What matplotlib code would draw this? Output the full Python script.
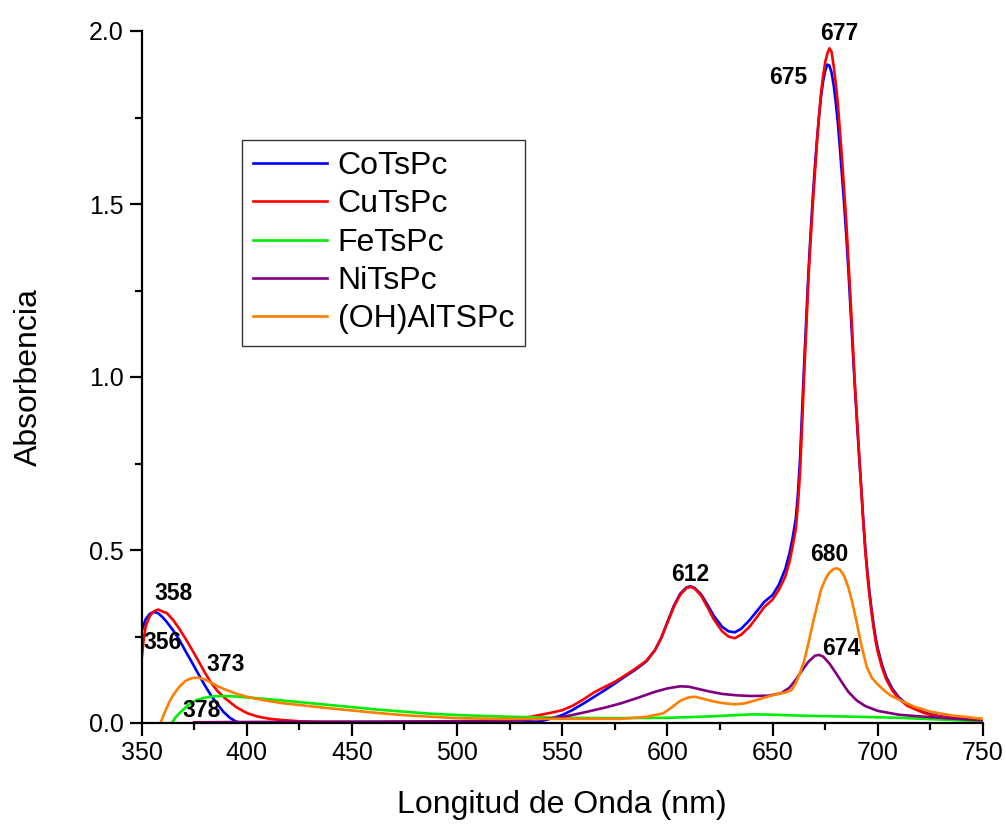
import matplotlib
matplotlib.use("Agg")
import matplotlib.pyplot as plt
from matplotlib.ticker import MultipleLocator, FormatStrFormatter

plt.rcParams['font.family'] = ['Liberation Sans', 'DejaVu Sans']

# ---------------- data ----------------
co_wl = [350, 352, 354, 356, 358, 360, 362, 365, 368, 371, 374, 377, 380, 383, 386, 389, 392, 395, 398,
         420, 460, 500, 530, 538, 543, 547, 550, 555, 560, 565, 570, 575, 580, 585, 590, 594, 597, 600,
         603, 606, 609, 611, 613, 616, 619, 622, 626, 629, 632, 635, 639, 643, 646, 650, 653, 656, 658,
         659.5, 661, 662, 663, 664, 665, 666, 667, 668, 669, 670, 671, 672, 673, 674, 675, 676, 677, 678,
         679, 680, 681, 682, 683, 684, 685, 686, 687, 688, 689, 690, 691, 692, 693, 694, 695, 696, 697,
         698, 699, 700, 702, 704, 707, 710, 714, 718, 722, 726, 730, 740, 750]
co_abs = [0.265, 0.300, 0.316, 0.321, 0.317, 0.306, 0.292, 0.268, 0.240, 0.207, 0.175, 0.142, 0.110,
          0.080, 0.055, 0.032, 0.015, 0.004, 0.000,
          0.000, 0.001, 0.001, 0.001, 0.003, 0.010, 0.017, 0.023, 0.038, 0.056, 0.075, 0.094, 0.114,
          0.135, 0.155, 0.178, 0.210, 0.245, 0.292, 0.338, 0.373, 0.392, 0.395, 0.390, 0.372, 0.342,
          0.310, 0.278, 0.265, 0.262, 0.272, 0.297, 0.327, 0.350, 0.370, 0.400, 0.445, 0.490, 0.535,
          0.590, 0.660, 0.760, 0.900, 1.040, 1.170, 1.300, 1.410, 1.510, 1.600, 1.680, 1.750, 1.810,
          1.855, 1.885, 1.903, 1.900, 1.880, 1.845, 1.795, 1.735, 1.660, 1.580, 1.500, 1.410, 1.310,
          1.200, 1.090, 0.980, 0.880, 0.780, 0.690, 0.595, 0.510, 0.440, 0.380, 0.330, 0.285, 0.245,
          0.215, 0.168, 0.133, 0.098, 0.074, 0.053, 0.041, 0.031, 0.024, 0.019, 0.012, 0.008]

cu_wl = [350, 351, 352, 354, 356, 358, 360, 362, 365, 368, 371, 374, 377, 380, 383, 386, 390, 395, 400,
         405, 410, 416, 425, 435, 460, 490, 510, 525, 535, 545, 550, 555, 560, 565, 570, 575, 580, 585,
         590, 594, 597, 600, 603, 606, 609, 611, 613, 616, 619, 622, 626, 629, 632, 635, 639, 643, 646,
         650, 653, 656, 658, 659.5, 661, 662, 663, 664, 665, 666, 667, 668, 669, 670, 671, 672, 673, 674,
         675, 676, 677, 678, 679, 680, 681, 682, 683, 684, 685, 686, 687, 688, 689, 690, 691, 692, 693,
         694, 695, 696, 697, 698, 699, 700, 702, 704, 707, 710, 714, 718, 722, 726, 730, 740, 750]
cu_abs = [0.180, 0.240, 0.280, 0.310, 0.323, 0.328, 0.322, 0.318, 0.298, 0.272, 0.243, 0.212, 0.180,
          0.147, 0.117, 0.093, 0.070, 0.046, 0.029, 0.019, 0.013, 0.009, 0.005, 0.003, 0.002, 0.003,
          0.005, 0.010, 0.018, 0.030, 0.037, 0.050, 0.068, 0.088, 0.104, 0.119, 0.138, 0.158, 0.180,
          0.210, 0.245, 0.290, 0.335, 0.370, 0.390, 0.393, 0.388, 0.368, 0.335, 0.300, 0.265, 0.250,
          0.245, 0.255, 0.278, 0.310, 0.335, 0.357, 0.385, 0.423, 0.465, 0.510, 0.560, 0.630, 0.720,
          0.860, 1.010, 1.140, 1.280, 1.390, 1.490, 1.580, 1.670, 1.750, 1.820, 1.870, 1.910, 1.935,
          1.950, 1.940, 1.900, 1.850, 1.790, 1.710, 1.630, 1.540, 1.450, 1.340, 1.230, 1.110, 0.990,
          0.890, 0.790, 0.690, 0.590, 0.500, 0.430, 0.370, 0.320, 0.275, 0.235, 0.205, 0.160, 0.126,
          0.093, 0.070, 0.050, 0.039, 0.029, 0.022, 0.018, 0.012, 0.008]

fe_wl = [364.5, 366, 368, 370, 373, 376, 380, 384, 388, 394, 400, 412, 424, 436, 448, 460, 472, 487,
         500, 525, 550, 575, 600, 620, 640, 650, 665, 690, 710, 730, 750]
fe_abs = [0.000, 0.015, 0.028, 0.040, 0.055, 0.066, 0.073, 0.077, 0.078, 0.077, 0.074, 0.068, 0.061,
          0.054, 0.047, 0.040, 0.034, 0.027, 0.023, 0.018, 0.015, 0.014, 0.015, 0.019, 0.025, 0.024,
          0.021, 0.018, 0.015, 0.010, 0.005]

ni_wl = [375, 400, 450, 500, 525, 540, 550, 560, 570, 578, 586, 594, 600, 606, 610, 615, 620, 626, 633,
         640, 648, 654, 658, 661, 664, 667, 670, 672, 674, 677, 680, 683, 686, 690, 694, 700, 710, 720,
         730, 740, 750]
ni_abs = [0.002, 0.003, 0.004, 0.005, 0.007, 0.011, 0.017, 0.030, 0.044, 0.057, 0.073, 0.090, 0.100,
          0.106, 0.105, 0.098, 0.091, 0.084, 0.080, 0.078, 0.079, 0.086, 0.102, 0.125, 0.152, 0.177,
          0.194, 0.197, 0.192, 0.172, 0.145, 0.117, 0.090, 0.065, 0.049, 0.035, 0.024, 0.019, 0.015,
          0.011, 0.008]

al_wl = [359, 361, 363, 365, 368, 371, 374, 377, 380, 383, 386, 390, 395, 400, 408, 416, 428, 440, 452,
         464, 476, 488, 500, 520, 550, 578, 590, 598, 602, 606, 610, 613, 617, 622, 627, 632, 637, 641,
         646, 651, 656, 659, 661, 663, 665, 667, 669, 671, 673, 675, 677, 679, 680.5, 682, 684, 686,
         688, 690, 692, 694.7, 697, 699.4, 703, 706, 710.5, 717, 724.8, 735, 750]
al_abs = [0.000, 0.030, 0.058, 0.080, 0.105, 0.122, 0.130, 0.131, 0.126, 0.117, 0.107, 0.096, 0.085,
          0.076, 0.066, 0.058, 0.050, 0.042, 0.035, 0.028, 0.022, 0.018, 0.014, 0.012, 0.012, 0.012,
          0.018, 0.028, 0.045, 0.064, 0.074, 0.076, 0.070, 0.062, 0.057, 0.054, 0.057, 0.064, 0.073,
          0.082, 0.088, 0.095, 0.115, 0.145, 0.180, 0.230, 0.285, 0.336, 0.385, 0.415, 0.435, 0.445,
          0.447, 0.443, 0.425, 0.392, 0.345, 0.290, 0.230, 0.163, 0.132, 0.115, 0.094, 0.080, 0.066,
          0.048, 0.033, 0.022, 0.012]

series_names = ['CoTsPc', 'CuTsPc', 'FeTsPc', 'NiTsPc', '(OH)AlTSPc']
series_colors = ['#0000FF', '#FF0000', '#00EE00', '#800080', '#FF8000']

peak_labels = ['358', '356', '373', '378', '612', '680', '674', '675', '677']
peak_label_x = [365.1, 359.9, 390.0, 378.6, 610.7, 677.0, 682.7, 657.4, 681.7]
peak_label_y = [0.373, 0.234, 0.168, 0.035, 0.428, 0.486, 0.214, 1.867, 1.994]

xlabel = 'Longitud de Onda (nm)'
ylabel = 'Absorbencia'

# ---------------- figure ----------------
W, H = 1006, 824
fig = plt.figure(figsize=(W / 100, H / 100), dpi=100)
left, right, bottom, top = 141.5, 983, 723, 31
ax = fig.add_axes([left / W, (H - bottom) / H, (right - left) / W, (bottom - top) / H])

xs = [co_wl, cu_wl, fe_wl, ni_wl, al_wl]
ys = [co_abs, cu_abs, fe_abs, ni_abs, al_abs]
for x, y, name, c in zip(xs, ys, series_names, series_colors):
    ax.plot(x, y, color=c, lw=1.9, label=name, solid_joinstyle='round')

for t, px, py in zip(peak_labels, peak_label_x, peak_label_y):
    ax.text(px, py, t, ha='center', va='center', fontsize=16.5, fontweight='bold', color='black')

ax.set_xlim(350, 750)
ax.set_ylim(0, 2.0)
ax.xaxis.set_major_locator(MultipleLocator(50))
ax.xaxis.set_minor_locator(MultipleLocator(25))
ax.yaxis.set_major_locator(MultipleLocator(0.5))
ax.yaxis.set_minor_locator(MultipleLocator(0.25))
ax.yaxis.set_major_formatter(FormatStrFormatter('%.1f'))

for s in ['top', 'right']:
    ax.spines[s].set_visible(False)
for s in ['left', 'bottom']:
    ax.spines[s].set_linewidth(1.6)

ax.tick_params(which='major', direction='out', length=9, width=1.6, labelsize=18, pad=4)
ax.tick_params(which='minor', direction='out', length=5, width=1.6)

ax.set_xlabel(xlabel, fontsize=23, labelpad=18)
ax.set_ylabel(ylabel, fontsize=23, labelpad=32)

leg = ax.legend(loc='upper left', bbox_to_anchor=(242 / W, (H - 140) / H),
                bbox_transform=fig.transFigure, borderaxespad=0, fontsize=23,
                frameon=True, fancybox=False, shadow=False, handlelength=2.3,
                handletextpad=0.35, labelspacing=0.26, borderpad=0.35)
leg.get_frame().set_edgecolor('black')
leg.get_frame().set_linewidth(1.0)
for line in leg.get_lines():
    line.set_linewidth(1.9)

fig.savefig('out.png', dpi=100)
